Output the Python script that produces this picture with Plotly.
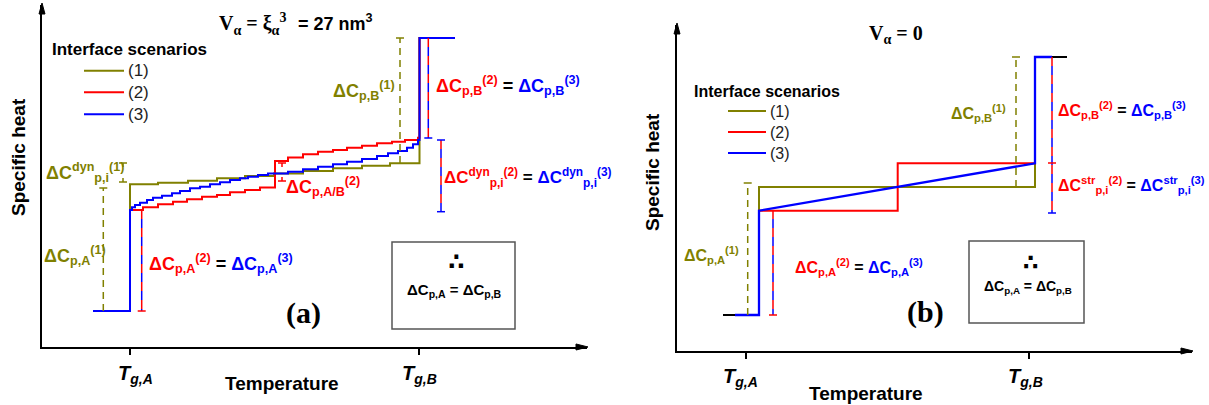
import plotly.graph_objects as go

W, H = 1209, 405
OLIVE, RED, BLUE = "#808000", "#ff0000", "#0000ff"
SANS = "Liberation Sans, Arial, sans-serif"
SERIF = "Liberation Serif, Times New Roman, serif"

# ---------------- panel (a): V_alpha = xi_alpha^3 = 27 nm^3 ----------------
# temperature (arb. units) and specific heat (arb. units), step curves
a_tg = [88, 377]                      # T_g,A , T_g,B
a1_T = [51, 88, 116, 146, 175, 203, 232, 261, 291, 320, 348, 377.5, 413]
a1_C = [36, 162.7, 164.3, 166.3, 168.7, 171, 173.5, 176, 178.7, 181.3, 183.7, 309, 309]
a2_T = [51, 88, 101, 116, 131, 145, 160, 175, 188, 203, 218, 233, 246, 261, 276, 291,
        305, 320, 335, 350, 363, 376, 377.5, 413]
a2_C = [36, 137, 139.7, 142.7, 145.3, 147.7, 150.3, 152, 154.7, 157, 159.5, 186, 189.5,
        192.7, 195.3, 197, 199.3, 201.3, 203.7, 205.3, 207, 209.3, 309, 309]
a3_T = [51, 88, 90, 93, 98, 105, 111, 120, 130, 138, 148, 158, 168, 178, 188, 198, 206,
        216, 226, 246, 261, 276, 291, 305, 320, 335, 346, 356, 365, 371, 376, 377.5, 413]
a3_C = [36, 137, 139.7, 142, 144.3, 147, 149.3, 151.3, 153.7, 156, 158.7, 160.3, 162.7,
        164.7, 167, 168.7, 170.3, 172, 173.5, 175.3, 177.7, 180.3, 182.7, 185.3, 188, 191,
        193.7, 196, 199.3, 202.7, 207, 309, 309]
# step-height brackets: (T, C_low, C_high)
a_dCA1 = (61.3, 36, 159)
a_dCA23 = (99.7, 36, 137)
a_dCB1 = (358, 184, 309)
a_dCB23 = (386.3, 209, 309)
a_dyn23 = (399, 135.3, 207)
a_dyn1 = (81, 165, 184)
a_dAB2 = (240, 166, 184)

# ---------------- panel (b): V_alpha = 0 ----------------
b_tg = [68.7, 352.3]
b0_T = [46, 82, None, 358, 390]
b0_C = [36, 36, None, 294, 294]
b1_T = [58, 82, 358, 375]
b1_C = [36, 164, 294, 294]
b2_T = [58, 82, 220.7, 358, 375]
b2_C = [36, 140.3, 187.7, 294, 294]
b3_T = [58, 82, 82, 358, 358, 375]
b3_C = [36, 36, 140.3, 187.7, 294, 294]
b_dCA1 = (70.7, 36, 168)
b_dCA23 = (96, 36, 141)
b_dCB1 = (339, 164, 294)
b_dCB23 = (375, 138, 294)
b_str_mid = 188

fig = go.Figure()


def line(xs, ys, color, ax, width=2, dash="solid", shape="linear"):
    fig.add_trace(go.Scatter(x=xs, y=ys, mode="lines", xaxis=ax[0], yaxis=ax[1],
                             line=dict(color=color, width=width, dash=dash, shape=shape),
                             hoverinfo="skip", showlegend=False, cliponaxis=False))


def cap(x, y, color, ax, up=False, down=False, half=4):
    line([x - half, x + half], [y, y], color, ax, width=1.5)
    if up:
        line([x, x], [y, y + 4], color, ax, width=1.5)
    if down:
        line([x, x], [y, y - 4], color, ax, width=1.5)


def rb_dash(x, y0, y1, ax):
    line([x, x], [y1, y0], RED, ax, width=1.5, dash="9px,9px")
    line([x, x], [y1, y0], BLUE, ax, width=1.5, dash="0px,9px,9px,0px")


A = ("x", "y")
B = ("x2", "y2")

# panel (a) curves
line(a1_T, a1_C, OLIVE, A, shape="hv")
line(a2_T, a2_C, RED, A, shape="hv")
line(a3_T, a3_C, BLUE, A, shape="hv")
# panel (a) brackets
x, lo, hi = a_dCA1
line([x, x], [lo, hi], OLIVE, A, width=1.5, dash="7px,5px"); cap(x, hi, OLIVE, A)
x, lo, hi = a_dCA23
rb_dash(x, lo, hi, A); cap(x, lo, RED, A)
x, lo, hi = a_dCB1
line([x, x], [lo, hi], OLIVE, A, width=1.5, dash="7px,5px"); cap(x, hi, OLIVE, A)
x, lo, hi = a_dCB23
rb_dash(x, lo, hi, A); cap(x, lo, BLUE, A)
x, lo, hi = a_dyn23
rb_dash(x, lo, hi, A); cap(x, lo, BLUE, A); cap(x, hi, BLUE, A)
x, lo, hi = a_dyn1
cap(x, hi, OLIVE, A, down=True); cap(x, lo, OLIVE, A, up=True)
x, lo, hi = a_dAB2
cap(x, hi, RED, A, down=True); cap(x, lo, RED, A, up=True)

# panel (b) curves
line(b0_T, b0_C, "black", B)
line(b1_T, b1_C, OLIVE, B, shape="hv")
line(b2_T, b2_C, RED, B, shape="hv")
line(b3_T, b3_C, BLUE, B, width=2.3)
x, lo, hi = b_dCA1
line([x, x], [lo, hi], OLIVE, B, width=1.5, dash="7px,5px"); cap(x, hi, OLIVE, B)
x, lo, hi = b_dCA23
rb_dash(x, lo, hi, B); cap(x, lo, RED, B)
x, lo, hi = b_dCB1
line([x, x], [lo, hi], OLIVE, B, width=1.5, dash="7px,5px"); cap(x, hi, OLIVE, B)
x, lo, hi = b_dCB23
rb_dash(x, lo, hi, B); cap(x, lo, BLUE, B); cap(x, b_str_mid, RED, B)


def P(x):
    return x / W


def Q(y):
    return 1 - y / H


notes = []


def note(text, x, y, size=18, color="black", xa="left", ya="middle", family=SANS,
         bold=True, angle=0):
    if bold:
        text = "<b>" + text + "</b>"
    notes.append(dict(text=text, x=P(x), y=Q(y), xref="paper", yref="paper",
                      xanchor=xa, yanchor=ya, showarrow=False, textangle=angle,
                      font=dict(family=family, size=size, color=color)))


def c(t, col):
    return "<span style='color:%s'>%s</span>" % (col, t)


def dc(sub, sup, col, top=""):
    s = "ΔC"
    if top:
        s += "<sup>%s</sup>" % top
    return c(s + "<sub>%s</sub><sup>%s</sup>" % (sub, sup), col)


# ---- panel (a) text ----
note("V<sub>α</sub> = ξ<sub>α</sub><sup>3</sup>", 217, 24, size=20, family=SERIF)
note("= 27 nm<sup>3</sup>", 296, 22, size=18)
note("Interface scenarios", 50, 49, size=17)
for i, yy in enumerate([70.7, 92.3, 114.3]):
    note("(%d)" % (i + 1), 126, yy, size=17, color="#222", bold=False)
note(dc("p,i", "(1)", OLIVE, "dyn"), 44, 172)
note(dc("p,A", "(1)", OLIVE), 42, 255)
note(dc("p,A", "(2)", RED) + " = " + dc("p,A", "(3)", BLUE), 147, 263)
note(dc("p,A/B", "(2)", RED), 284, 186)
note(dc("p,B", "(1)", OLIVE), 331, 90)
note(dc("p,B", "(2)", RED) + " = " + dc("p,B", "(3)", BLUE), 434, 85)
note(dc("p,i", "(2)", RED, "dyn") + " = " + dc("p,i", "(3)", BLUE, "dyn"), 442, 177, size=17)
note("∴", 456, 262, size=24, xa="center", family="DejaVu Sans")
note("ΔC<sub>p,A</sub> = ΔC<sub>p,B</sub>", 454, 290, size=15, xa="center")
note("(a)", 303, 313, size=30, xa="center", family=SERIF)
note("Specific heat", 18, 157, size=19, xa="center", angle=-90)
note("Temperature", 282, 383, size=19, xa="center")
note("<i>T<sub>g,A</sub></i>", 135, 374, size=20, xa="center")
note("<i>T<sub>g,B</sub></i>", 419, 374, size=20, xa="center")

# ---- panel (b) text ----
note("V<sub>α</sub> = 0", 867, 35, size=20, family=SERIF)
note("Interface scenarios", 692, 91, size=16)
for i, yy in enumerate([111, 132, 153]):
    note("(%d)" % (i + 1), 768, yy, size=16, color="#222", bold=False)
note(dc("p,A", "(1)", OLIVE), 682, 255, size=16)
note(dc("p,A", "(2)", RED) + " = " + dc("p,A", "(3)", BLUE), 793, 267, size=16)
note(dc("p,B", "(1)", OLIVE), 949, 113, size=16)
note(dc("p,B", "(2)", RED) + " = " + dc("p,B", "(3)", BLUE), 1056, 110, size=16)
note(dc("p,i", "(2)", RED, "str") + " = " + dc("p,i", "(3)", BLUE, "str"), 1056, 185, size=16)
note("∴", 1030, 262, size=22, xa="center", family="DejaVu Sans")
note("ΔC<sub>p,A</sub> = ΔC<sub>p,B</sub>", 1028, 287, size=14, xa="center")
note("(b)", 925, 312, size=30, xa="center", family=SERIF)
note("Specific heat", 652, 172, size=19, xa="center", angle=-90)
note("Temperature", 866, 393, size=19, xa="center")
note("<i>T<sub>g,A</sub></i>", 740, 377, size=20, xa="center")
note("<i>T<sub>g,B</sub></i>", 1025, 377, size=20, xa="center")

shapes = []


def tri(pts):
    d = "M " + " L ".join("%.5f,%.5f" % (P(px), Q(py)) for px, py in pts) + " Z"
    shapes.append(dict(type="path", xref="paper", yref="paper", path=d,
                       fillcolor="black", line=dict(color="black", width=1)))


# axis arrowheads
tri([(39, 14), (42, 3), (45, 14)])
tri([(576, 344), (588, 347), (576, 350)])
tri([(674, 34), (677, 23), (680, 34)])
tri([(1181, 348), (1193, 351), (1181, 354)])

# legend samples
for x0, x1, ys in [(84, 124, [70.7, 92.3, 114.3]), (728, 766, [111, 132, 153])]:
    for yy, col in zip(ys, [OLIVE, RED, BLUE]):
        shapes.append(dict(type="line", xref="paper", yref="paper", x0=P(x0), x1=P(x1),
                           y0=Q(yy), y1=Q(yy), line=dict(color=col, width=2)))
# conclusion boxes
for x0, x1, y0, y1 in [(392, 515, 242, 329), (969, 1084, 241, 323)]:
    shapes.append(dict(type="rect", xref="paper", yref="paper", x0=P(x0), x1=P(x1),
                       y0=Q(y0), y1=Q(y1), line=dict(color="#555", width=1.5)))

ax_common = dict(showline=True, linewidth=2, linecolor="black", showgrid=False,
                 zeroline=False, fixedrange=True)
fig.update_layout(
    width=W, height=H, margin=dict(l=0, r=0, t=0, b=0),
    paper_bgcolor="white", plot_bgcolor="white", showlegend=False,
    xaxis=dict(domain=[42 / W, 587 / W], range=[0, 545], tickvals=a_tg, ticks="outside",
               ticklen=6, tickwidth=1.5, tickcolor="black", showticklabels=False,
               anchor="y", **ax_common),
    yaxis=dict(domain=[(H - 347) / H, (H - 5) / H], range=[0, 342], showticklabels=False,
               ticks="", anchor="x", **ax_common),
    xaxis2=dict(domain=[677 / W, 1192 / W], range=[0, 515], tickvals=b_tg, ticks="outside",
                ticklen=6, tickwidth=1.5, tickcolor="black", showticklabels=False,
                anchor="y2", **ax_common),
    yaxis2=dict(domain=[(H - 351) / H, (H - 25) / H], range=[0, 326], showticklabels=False,
                ticks="", anchor="x2", **ax_common),
    annotations=notes, shapes=shapes,
)

fig.write_html("out.html")
